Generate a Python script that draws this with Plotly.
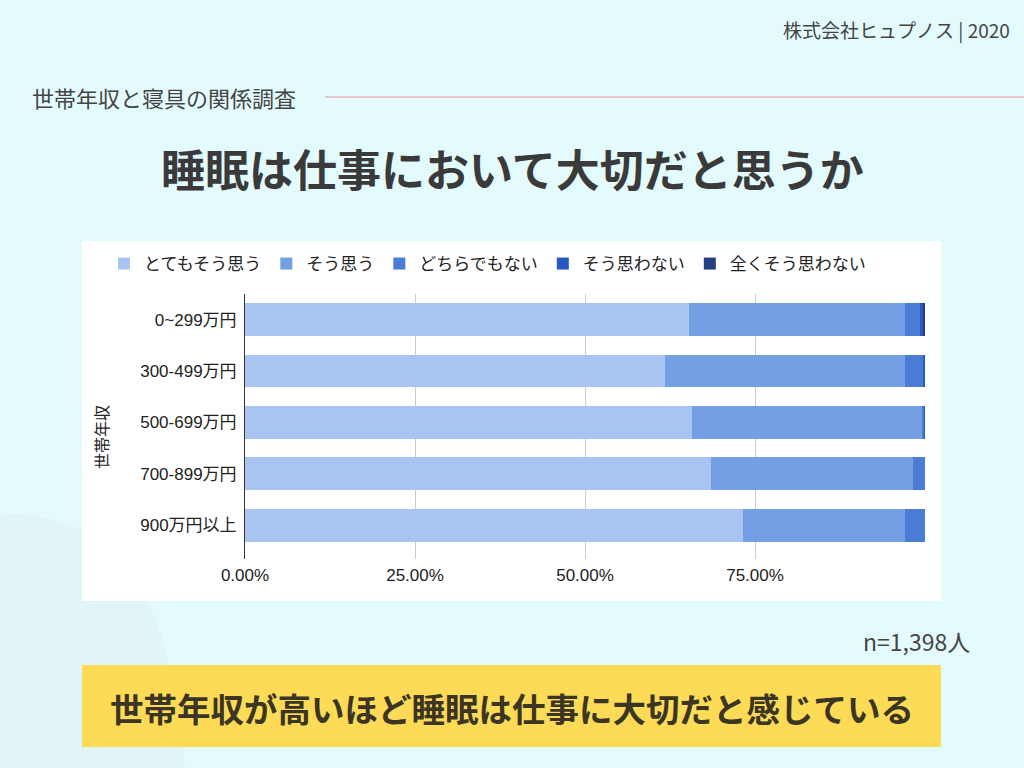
import plotly.graph_objects as go

categories = ["0~299万円", "300-499万円", "500-699万円", "700-899万円", "900万円以上"]
series_names = ["とてもそう思う", "そう思う", "どちらでもない", "そう思わない", "全くそう思わない"]
very_agree = [0.653, 0.618, 0.658, 0.686, 0.733]
agree = [0.317, 0.353, 0.337, 0.296, 0.238]
neutral = [0.023, 0.026, 0.004, 0.018, 0.029]
disagree = [0.004, 0.003, 0.001, 0.000, 0.000]
strongly_disagree = [0.003, 0.000, 0.000, 0.000, 0.000]
tick_vals = [0, 0.25, 0.5, 0.75, 1.0]
tick_text = ["0.00%", "25.00%", "50.00%", "75.00%", ""]

colors = ["#a9c4f1", "#759fe3", "#4a7bd5", "#2657c4", "#243f80"]
series = [very_agree, agree, neutral, disagree, strongly_disagree]

W, H = 1024, 768
def px(x):
    return x / W
def py(y):
    return 1 - y / H

fig = go.Figure()
for name, vals, c in zip(series_names, series, colors):
    fig.add_trace(go.Bar(y=categories, x=vals, name=name, orientation="h",
                         marker=dict(color=c, line=dict(width=0))))

BG = "#e4fbfd"
shapes = [
    # subtle background circle (bottom-left decoration)
    dict(type="path", xref="paper", yref="paper", layer="below",
         path=f"M 0 {py(513)} Q {px(60)} {py(513)} {px(110)} {py(545)} "
              f"Q {px(170)} {py(600)} {px(185)} {py(768)} L 0 {py(768)} Z",
         fillcolor="#e1f5f8", line=dict(width=0)),
    # white chart panel
    dict(type="rect", xref="paper", yref="paper", layer="below",
         x0=px(82), x1=px(941), y0=py(601), y1=py(241),
         fillcolor="white", line=dict(width=0)),
    # pink rule
    dict(type="line", xref="paper", yref="paper",
         x0=px(325), x1=px(1024), y0=py(97), y1=py(97),
         line=dict(color="#e9b9bd", width=1.5)),
    # yellow banner
    dict(type="rect", xref="paper", yref="paper", layer="below",
         x0=px(82), x1=px(941), y0=py(747), y1=py(665),
         fillcolor="#fddb57", line=dict(width=0)),
]

annotations = [
    dict(text="株式会社ヒュプノス | 2020", x=px(1012), y=py(30), xref="paper", yref="paper",
         xanchor="right", yanchor="middle", showarrow=False,
         font=dict(family="Noto Sans CJK JP", size=19, color="#444444")),
    dict(text="世帯年収と寝具の関係調査", x=px(30), y=py(97), xref="paper", yref="paper",
         xanchor="left", yanchor="middle", showarrow=False,
         font=dict(family="Noto Sans CJK JP", size=22, color="#444444")),
    dict(text="<b>睡眠は仕事において大切だと思うか</b>", x=0.5, y=py(168), xref="paper", yref="paper",
         xanchor="center", yanchor="middle", showarrow=False,
         font=dict(family="Noto Sans CJK JP", size=44, color="#3a3a3a")),
    dict(text="n=1,398人", x=px(972), y=py(641), xref="paper", yref="paper",
         xanchor="right", yanchor="middle", showarrow=False,
         font=dict(family="Noto Sans CJK JP", size=23, color="#444444")),
    dict(text="<b>世帯年収が高いほど睡眠は仕事に大切だと感じている</b>", x=px(512), y=py(707),
         xref="paper", yref="paper", xanchor="center", yanchor="middle", showarrow=False,
         font=dict(family="Noto Sans CJK JP", size=33.5, color="#3b3524")),
    dict(text="世帯年収", x=px(102), y=py(437), xref="paper", yref="paper",
         xanchor="center", yanchor="middle", showarrow=False, textangle=-90,
         font=dict(family="Liberation Sans, Noto Sans CJK JP", size=16, color="#222222")),
]

fig.update_layout(
    width=W, height=H, margin=dict(l=0, r=0, t=0, b=0, pad=0, autoexpand=False),
    paper_bgcolor=BG, plot_bgcolor="rgba(0,0,0,0)",
    barmode="stack", bargap=0.36,
    font=dict(family="Liberation Sans, Noto Sans CJK JP", size=17, color="#222222"),
    shapes=shapes, annotations=annotations,
    legend=dict(orientation="h", x=px(104), y=py(264), xanchor="left", yanchor="middle",
                bgcolor="rgba(0,0,0,0)", font=dict(size=17, color="#222222"),
                traceorder="normal", itemwidth=30),
    xaxis=dict(domain=[px(245), px(925)], range=[0, 1], tickvals=tick_vals, ticktext=tick_text,
               showgrid=True, gridcolor="#cccccc", gridwidth=1, zeroline=False,
               showline=False, ticks="", tickfont=dict(size=17, color="#222222"),
               ticklabelstandoff=4, anchor="y", fixedrange=True, automargin=False),
    yaxis=dict(domain=[py(559), py(294)], range=[4.66, -0.5], type="category",
               showgrid=False, showline=True, linecolor="#333333", linewidth=1,
               ticks="", ticklabelstandoff=4, tickfont=dict(size=17, color="#222222"),
               fixedrange=True, automargin=False),
)

fig.write_html("out.html", config={"displayModeBar": False},
               post_script="document.body.style.margin='0';")
